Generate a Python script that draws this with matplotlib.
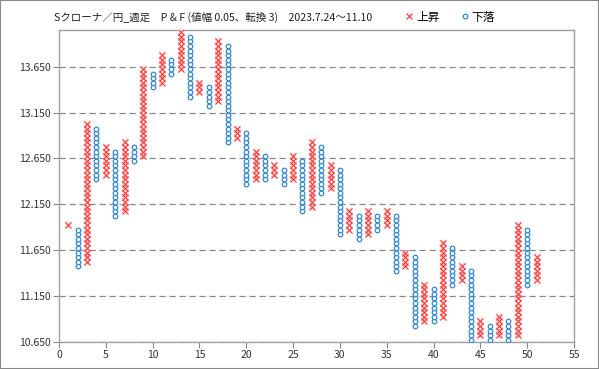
#!/usr/bin/env python3

##
# plot.py
#
# Point & figure chart of the SEK/JPY weekly close (box 0.05, 3 box reversal).
##
import matplotlib
matplotlib.use('Agg')
import matplotlib.pyplot as plt
from matplotlib.lines import Line2D
from matplotlib.patches import Rectangle

# Box size of the chart
BOX = 0.05

# One entry per column, starting at column 1
KIND = ['X', 'O', 'X', 'O', 'X', 'O', 'X', 'O', 'X', 'O',
        'X', 'O', 'X', 'O', 'X', 'O', 'X', 'O', 'X', 'O',
        'X', 'O', 'X', 'O', 'X', 'O', 'X', 'O', 'X', 'O',
        'X', 'O', 'X', 'O', 'X', 'O', 'X', 'O', 'X', 'O',
        'X', 'O', 'X', 'O', 'X', 'O', 'X', 'O', 'X', 'O',
        'X']

# Lowest and highest box of each column
LOW = [11.95, 11.50, 11.55, 12.45, 12.50, 12.05, 12.10, 12.65, 12.70, 13.45,
       13.50, 13.60, 13.65, 13.35, 13.40, 13.25, 13.30, 12.85, 12.90, 12.40,
       12.45, 12.45, 12.50, 12.40, 12.45, 12.10, 12.15, 12.30, 12.35, 11.85,
       11.90, 11.80, 11.85, 11.90, 11.95, 11.45, 11.50, 10.85, 10.90, 10.90,
       10.95, 11.30, 11.35, 10.70, 10.75, 10.70, 10.75, 10.70, 10.75, 11.30,
       11.35]
HIGH = [11.95, 11.90, 13.05, 13.00, 12.80, 12.75, 12.85, 12.80, 13.65, 13.60,
        13.80, 13.75, 14.05, 14.00, 13.50, 13.45, 13.95, 13.90, 13.00, 12.95,
        12.75, 12.70, 12.60, 12.55, 12.70, 12.65, 12.85, 12.80, 12.60, 12.55,
        12.10, 12.05, 12.10, 12.05, 12.10, 12.05, 11.65, 11.60, 11.30, 11.25,
        11.75, 11.70, 11.50, 11.45, 10.90, 10.85, 10.95, 10.90, 11.95, 11.90,
        11.60]

TITLE = 'Sクローナ／円_週足　P & F (値幅 0.05、転換 3)　2023.7.24～11.10'
YTICKS = [10.65, 11.15, 11.65, 12.15, 12.65, 13.15, 13.65]

RED = '#FF2A2A'
PINK = '#FFCDCD'
BLUE = '#2E8AD6'
GRAY = '#888888'


def boxes():
    # Expand every column into its boxes, drawn at the middle of the box
    up_x, up_y, down_x, down_y = [], [], [], []
    for ndx, kind in enumerate(KIND):
        count = int(round((HIGH[ndx] - LOW[ndx]) / BOX)) + 1
        for step in range(count):
            value = LOW[ndx] + step * BOX - BOX / 2
            if kind == 'X':
                up_x.append(ndx + 1)
                up_y.append(value)
            else:
                down_x.append(ndx + 1)
                down_y.append(value)
    return up_x, up_y, down_x, down_y


def figure(filename):
    plt.rcParams['font.family'] = ['Noto Sans CJK JP', 'DejaVu Sans']
    fig = plt.figure(figsize=(5.99, 3.69), dpi=100)
    ax = fig.add_axes([59 / 599, 1 - 342 / 369, 515 / 599, 312 / 369])

    up_x, up_y, down_x, down_y = boxes()
    ax.plot(up_x, up_y, ls='none', marker='x', ms=4.2, mew=1.6, color=PINK, zorder=3)
    ax.plot(up_x, up_y, ls='none', marker='x', ms=4.0, mew=0.7, color=RED, zorder=4)
    ax.plot(down_x, down_y, ls='none', marker='o', ms=3.3, mew=0.9, mfc='white', mec=BLUE, zorder=4)

    # Axes and grid
    ax.set_xlim(0, 55)
    ax.set_ylim(10.65, 14.05)
    ax.set_xticks(range(0, 56, 5))
    ax.set_yticks(YTICKS)
    ax.set_yticklabels(['{:.3f}'.format(v) for v in YTICKS])
    ax.yaxis.grid(True, ls=(0, (5, 3)), color=GRAY, lw=0.9)
    ax.set_axisbelow(True)
    for spine in ax.spines.values():
        spine.set_color('#A0A0A0')
        spine.set_linewidth(1.0)
    ax.tick_params(axis='both', direction='out', length=4, color=GRAY,
                   labelsize=7.5, labelcolor='#333333', pad=2)

    # Title and legend
    fig.text(54 / 599, 1 - 17 / 369, TITLE, fontsize=7.6, va='center', ha='left', color='#222222')
    handles = [Line2D([], [], ls='none', marker='x', ms=4.0, mew=0.8, color=RED),
               Line2D([], [], ls='none', marker='o', ms=3.3, mew=0.9, mfc='white', mec=BLUE)]
    fig.legend(handles, ['上昇', '下落'], ncol=2, frameon=False, fontsize=8.5,
               loc='center right', bbox_to_anchor=(500 / 599, 1 - 17 / 369),
               handlelength=0.8, handletextpad=0.2, columnspacing=1.7, borderaxespad=0)

    # Outer border
    fig.patches.append(Rectangle((0, 0), 1, 1, transform=fig.transFigure, fill=False,
                                 edgecolor='#888888', lw=1.5))

    plt.savefig(filename, dpi=100)
    plt.close()


if __name__ == '__main__':
    figure('out.png')
